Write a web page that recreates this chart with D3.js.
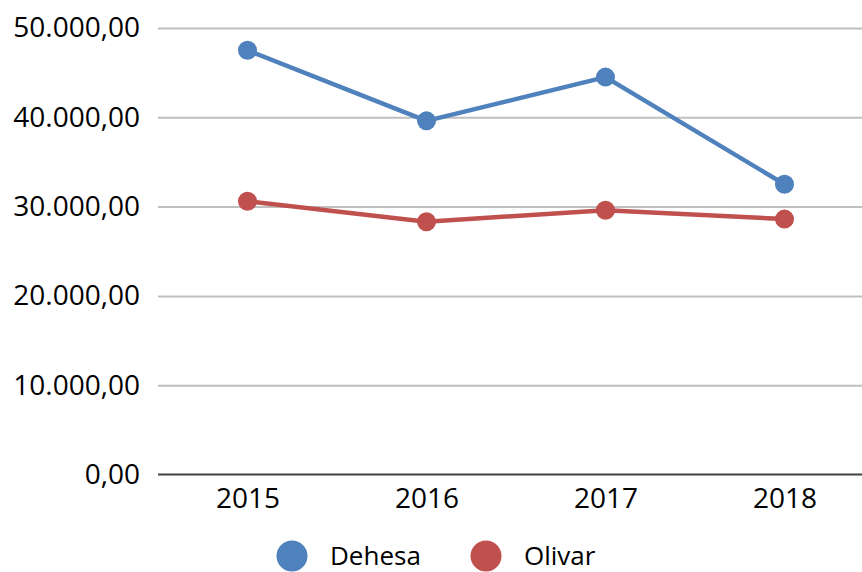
<!DOCTYPE html>
<html>
<head>
<meta charset="utf-8">
<script src="https://cdn.jsdelivr.net/npm/d3@7"></script>
<style>
  html, body { margin: 0; padding: 0; background: #fff; }
  svg { display: block; }
  text { font-family: "Open Sans", "Noto Sans", sans-serif; fill: #000; }
</style>
</head>
<body>
<svg id="chart" width="862" height="572"></svg>
<script>
// Years on the category axis
const years = ["2015", "2016", "2017", "2018"];
// Series values
const dehesa = [47500, 39600, 44500, 32500];
const olivar = [30600, 28300, 29600, 28600];
// Value axis ticks
const yTicks = [0, 10000, 20000, 30000, 40000, 50000];

const series = [
  { name: "Dehesa", values: dehesa, color: "#4F81BD" },
  { name: "Olivar", values: olivar, color: "#C0504D" }
];

const svg = d3.select("#chart");
const W = 862, H = 572;
const plotLeft = 158, plotRight = 874, plotTop = 28, plotBottom = 474.5;

const x = d3.scalePoint().domain(years).range([plotLeft, plotRight]).padding(0.5);
const y = d3.scaleLinear().domain([0, 50000]).range([plotBottom, plotTop]);

// Spanish number format: "." thousands, "," decimals
const loc = d3.formatLocale({ decimal: ",", thousands: ".", grouping: [3], currency: ["", " €"] });
const fmt = loc.format(",.2f");

// Gridlines + value labels
const yAxis = d3.axisLeft(y).tickValues(yTicks).tickFormat(fmt).tickSize(0).tickPadding(18);
const gy = svg.append("g").attr("transform", `translate(${plotLeft},0)`).call(yAxis);
gy.select(".domain").remove();
gy.selectAll(".tick text").style("font-size", "28px").attr("fill", "#000");
gy.selectAll(".tick").filter(d => d !== 0).append("line")
  .attr("x1", 0).attr("x2", W - plotLeft)
  .attr("stroke", "#bfbfbf").attr("stroke-width", 2);

// Category axis
const xAxis = d3.axisBottom(x).tickSize(0).tickPadding(14);
const gx = svg.append("g").attr("transform", `translate(0,${plotBottom})`).call(xAxis);
gx.select(".domain").remove();
gx.append("line").attr("x1", plotLeft).attr("x2", W)
  .attr("stroke", "#404040").attr("stroke-width", 2);
gx.selectAll(".tick text").style("font-size", "28px").attr("fill", "#000");

// Lines and markers
const line = d3.line().x((d, i) => x(years[i])).y(d => y(d));
series.forEach(s => {
  svg.append("path").datum(s.values)
    .attr("d", line).attr("fill", "none")
    .attr("stroke", s.color).attr("stroke-width", 4.5).attr("stroke-linejoin", "round");
  svg.append("g").selectAll("circle").data(s.values).join("circle")
    .attr("cx", (d, i) => x(years[i])).attr("cy", d => y(d))
    .attr("r", 9.5).attr("fill", s.color);
});

// Legend along the bottom edge
const legendX = [292, 486];
const legend = svg.append("g");
series.forEach((s, i) => {
  legend.append("circle").attr("cx", legendX[i]).attr("cy", 556).attr("r", 15.5).attr("fill", s.color);
  legend.append("text").attr("x", legendX[i] + 38).attr("y", 565)
    .style("font-size", "26px").text(s.name);
});
</script>
</body>
</html>
